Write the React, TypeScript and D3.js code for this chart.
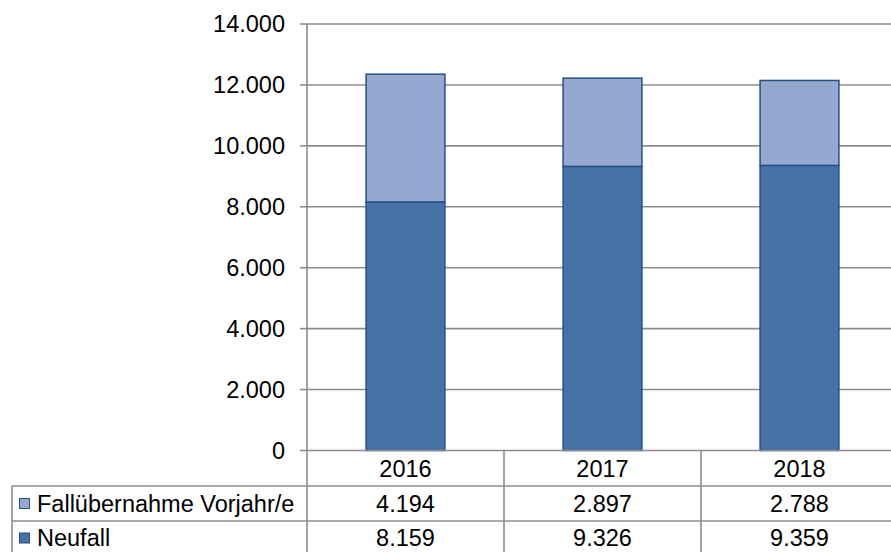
import React from "react";
import * as d3 from "d3";

const categories = ["2016", "2017", "2018"];
const seriesNames = ["Fallübernahme Vorjahr/e", "Neufall"];
const fallUebernahme = [4194, 2897, 2788];
const neufall = [8159, 9326, 9359];
const yTicks = [0, 2000, 4000, 6000, 8000, 10000, 12000, 14000];

const W = 891;
const H = 552;
const FONT = "'Liberation Sans', Arial, sans-serif";
const FS = 23.5;

const fmt = (v: number) => d3.format(",")(v).replace(/,/g, ".");

export default function App() {
  const left = 307;
  const right = 898;
  const top = 24;
  const bottom = 450.5;
  const rowH = [450.5, 486, 521, 556];
  const tableLeft = 12;

  const x = d3.scaleBand<string>().domain(categories).range([left, right]).padding(0);
  const y = d3.scaleLinear().domain([0, 14000]).range([bottom, top]);
  const bw = x.bandwidth() * 0.4;

  const colNeu = "#4572A7";
  const colFall = "#95A9D0";
  const stroke = "#264F86";
  const grid = "#8C8C8C";

  const stacked = categories.map((c, i) => ({
    c,
    neu: neufall[i],
    fall: fallUebernahme[i],
  }));

  const rows = [
    { name: seriesNames[0], values: fallUebernahme, color: colFall },
    { name: seriesNames[1], values: neufall, color: colNeu },
  ];

  return (
    <svg width={W} height={H} style={{ position: "absolute", left: 0, top: 0, background: "#fff" }} fontFamily={FONT}>
      {/* gridlines */}
      {yTicks.map((t) => (
        <g key={t}>
          {t > 0 && <line x1={left} x2={W} y1={y(t)} y2={y(t)} stroke={grid} strokeWidth={1.6} />}
          <line x1={left - 7} x2={left} y1={y(t)} y2={y(t)} stroke={grid} strokeWidth={1.6} />
          <text x={285} y={y(t)} dy="0.36em" textAnchor="end" fontSize={FS} fill="#000">
            {fmt(t)}
          </text>
        </g>
      ))}
      {/* bars */}
      {stacked.map((d) => {
        const cx = (x(d.c) as number) + x.bandwidth() / 2;
        return (
          <g key={d.c}>
            <rect x={cx - bw / 2} y={y(d.neu)} width={bw} height={y(0) - y(d.neu)} fill={colNeu} stroke={stroke} strokeWidth={1.5} />
            <rect x={cx - bw / 2} y={y(d.neu + d.fall)} width={bw} height={y(d.neu) - y(d.neu + d.fall)} fill={colFall} stroke={stroke} strokeWidth={1.5} />
          </g>
        );
      })}
      {/* baseline */}
      <line x1={left} x2={W} y1={bottom} y2={bottom} stroke={grid} strokeWidth={1.6} />
      {/* axis */}
      <line x1={left} x2={left} y1={top} y2={H} stroke={grid} strokeWidth={1.6} />
      {/* table */}
      {categories.map((c, i) => {
        const x0 = x(c) as number;
        return (
          <g key={c}>
            {i > 0 && <line x1={x0} x2={x0} y1={bottom} y2={H} stroke={grid} strokeWidth={1.6} />}
            <text x={x0 + x.bandwidth() / 2} y={(rowH[0] + rowH[1]) / 2} dy="0.36em" textAnchor="middle" fontSize={FS}>
              {c}
            </text>
          </g>
        );
      })}
      <line x1={tableLeft} x2={W} y1={rowH[1]} y2={rowH[1]} stroke={grid} strokeWidth={1.6} />
      <line x1={tableLeft} x2={W} y1={rowH[2]} y2={rowH[2]} stroke={grid} strokeWidth={1.6} />
      <line x1={tableLeft} x2={tableLeft} y1={rowH[1]} y2={H} stroke={grid} strokeWidth={1.6} />
      {rows.map((r, ri) => {
        const cy = (rowH[ri + 1] + rowH[ri + 2]) / 2;
        const cyText = ri === 1 ? 538 : cy;
        return (
          <g key={r.name}>
            <rect x={19.5} y={cyText - 5} width={10} height={10} fill={r.color} stroke={stroke} strokeWidth={1} />
            <text x={37} y={cyText} dy="0.36em" fontSize={FS}>
              {r.name}
            </text>
            {r.values.map((v, i) => (
              <text key={i} x={(x(categories[i]) as number) + x.bandwidth() / 2} y={cyText} dy="0.36em" textAnchor="middle" fontSize={FS}>
                {fmt(v)}
              </text>
            ))}
          </g>
        );
      })}
    </svg>
  );
}
